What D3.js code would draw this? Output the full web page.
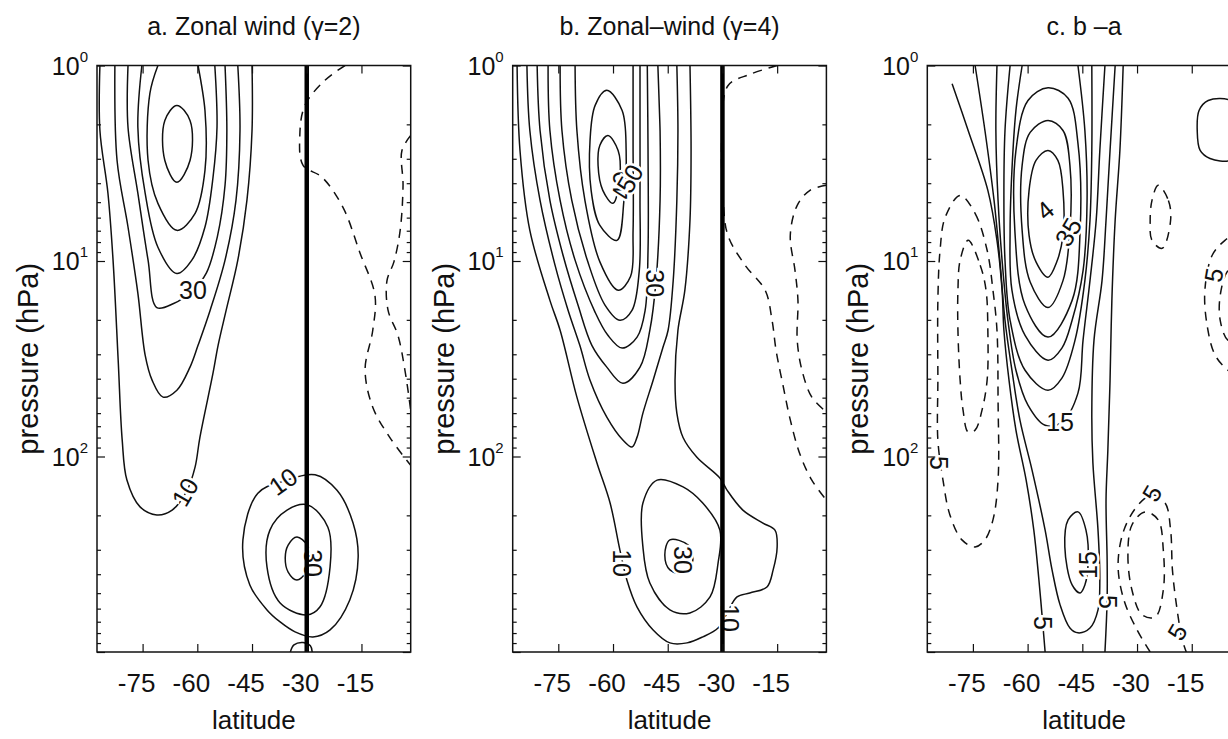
<!DOCTYPE html>
<html><head><meta charset="utf-8">
<script src="https://cdn.jsdelivr.net/npm/d3@7"></script>
<style>
html,body{margin:0;padding:0;background:#fff;}
svg{display:block;font-family:"Liberation Sans",Arial,Helvetica,sans-serif;}
</style></head><body>
<svg id="chart" width="1228" height="739"></svg>
<script>
// ---------------- data (latitude in degrees, pressure in hPa) ----------------
const latTicks = [-75, -60, -45, -30, -15];
const latTickLabels = ["-75", "-60", "-45", "-30", "-15"];
const pressureDecades = [1, 10, 100];
const decadeExponents = ["0", "1", "2"];
const latDomain = [-87.5, -1.5];
const pressureDomain = [1, 1000];
const titles = ["a. Zonal wind (\u03b3=2)", "b. Zonal\u2013wind (\u03b3=4)", "c. b \u2013a"];
const xLabel = "latitude";
const yLabel = "pressure (hPa)";
const jetLat = -30;

// panel a: gamma = 2
const aU10 = [[-86.7,1],[-86.7,2.15],[-84.5,4.5],[-83.1,9.9],[-81.7,32],[-80.6,82],[-79.3,132],[-75.7,181],[-71.1,199],[-66.9,188],[-62.8,149],[-60.6,113],[-59.3,80],[-55.7,37.5],[-54.3,27],[-52.1,17.9],[-48.9,9.9],[-46.4,4.9],[-45,2.15],[-45,1]];
const aU20 = [[-82.6,1],[-82,3.06],[-79,6.7],[-76.3,14.6],[-74.3,30.3],[-72.4,40.7],[-69.4,49.7],[-65.6,45.8],[-62,34.9],[-59.8,27],[-56.5,17.9],[-52.4,9.9],[-49.4,4.9],[-48.3,2.15],[-48.9,1]];
const aU30 = [[-79,1],[-79,2.07],[-76.3,4.5],[-73.5,9.9],[-71.1,17.3],[-66.5,16.5],[-61.2,14.1],[-57.5,11.5],[-54.5,7.5],[-52.4,4.1],[-51.9,2.15],[-52.4,1]];
const aU40 = [[-75.2,1],[-76.3,2.07],[-74.3,4.5],[-70.8,8.5],[-65.6,11.6],[-61.5,9.9],[-57.9,6.7],[-55.7,3.74],[-54.6,2.07],[-55.2,1]];
const aU50 = [[-70.8,1],[-73,1.39],[-73.5,3.06],[-70.8,5.07],[-65.6,6.97],[-60.6,5.7],[-57.9,3.44],[-57.9,1.7],[-59.8,1]];
const aE60 = [[-65.6,1.6],[-62,1.91],[-62,3.06],[-65.6,3.96],[-68.9,3.06],[-68.9,1.91]];
const aB10 = [[-27.7,124],[-21.7,149],[-17.3,219],[-15.9,327],[-18.2,542],[-23.6,771],[-28.3,837],[-33.2,789],[-37.3,702],[-40.9,609],[-45.6,454],[-47.5,267],[-43.4,154],[-36.5,134]];
const aB20 = [[-29.7,177],[-24.2,230],[-23.6,367],[-26.4,589],[-30,646],[-37.3,561],[-40.9,367],[-40.1,238],[-35.4,188]];
const aB30 = [[-32.7,258],[-29.9,284],[-29.1,331],[-30.2,390],[-32.7,428],[-35.1,390],[-35.9,331],[-35.1,284]];
const aS10 = [[-34.5,1000],[-33.5,920],[-31,895],[-29,930],[-28.5,1000]];
const aN10a = [[-19.5,1],[-25,1.19],[-30.5,1.6],[-31.9,2.28],[-31,3.24],[-25.8,3.73],[-20.1,5.3],[-15.4,9.1],[-11.3,15],[-11.9,22.6],[-14,36],[-11.9,56],[-7.2,80],[-1.5,111]];
const aN20a = [[-1.5,2.28],[-3.9,2.72],[-3.6,4.1],[-4.4,7],[-6.1,10.1],[-8,12.6],[-7.7,17.9],[-5,24],[-3.1,36],[-1.5,58]];
const aLabels = [["30",-61.2,14.1,0],["10",-63.4,152,-60],["10",-36.5,134,-35],["30",-28.3,351,90]];

// panel b: gamma = 4
const bU10 = [[-86.3,1],[-85.5,2.72],[-82.8,6.97],[-77.3,15.9],[-74.5,22.6],[-69.9,49.7],[-64.4,108],[-60.8,173],[-58.1,301],[-56.2,428],[-53.4,589],[-49.0,771],[-44.4,898],[-39.7,898],[-35.4,837],[-31.2,754],[-28.7,631],[-26.0,523],[-22.5,499],[-17.8,465],[-16.1,380],[-15.0,290],[-15.6,238],[-18.9,219],[-24.4,188],[-28.7,149],[-30.7,129],[-37.0,101],[-40.8,80],[-42.5,60],[-43.0,41],[-42.2,22.6],[-40.3,14.1],[-38.9,6.2],[-38.6,2.72],[-38.9,1]];
const bU20 = [[-83.6,1],[-82.8,2.15],[-80.0,4.9],[-75.9,10.5],[-72.3,17.9],[-69.1,27],[-66.3,40.7],[-61.7,62.9],[-57.3,82.4],[-54.8,89.5],[-53.4,79.6],[-51.8,60],[-49.0,40.7],[-46.3,27.6],[-44.9,22.6],[-43.5,12.6],[-42.5,4.9],[-42.2,2.15],[-42.5,1]];
const bU30 = [[-80.8,1],[-80.0,2.15],[-77.3,4.9],[-73.7,9.35],[-69.6,16.8],[-65.8,27],[-61.7,34.9],[-57.3,42.2],[-52.6,34.9],[-49.9,22.6],[-48.2,12.6],[-47.1,4.9],[-47.1,2.15],[-47.7,1]];
const bU40 = [[-77.8,1],[-77.3,2.15],[-74.5,4.9],[-70.4,9.9],[-64.9,18.3],[-61.4,24.0],[-57.5,27.9],[-53.4,24.5],[-51.2,17.9],[-50.4,8.8],[-50.4,2.72],[-50.6,1]];
const bU50 = [[-74.5,1],[-74.0,2.15],[-71.3,4.9],[-66.9,10.1],[-62.2,16.8],[-58.1,20.1],[-54.8,17.9],[-52.8,11.2],[-52.6,4.9],[-52.6,2.15],[-52.6,1]];
const bU60 = [[-70.4,1],[-69.9,2.15],[-67.7,4.9],[-63.6,10.1],[-58.6,14.1],[-55.2,12],[-54.5,7],[-54.5,2.5],[-54.5,1]];
const bE70 = [[-61.7,1.34],[-57.5,1.7],[-56.4,2.72],[-57.0,4.9],[-58.9,7.84],[-63.6,6.57],[-66.0,4.35],[-66.3,2.42],[-64.9,1.6]];
const bE80 = [[-61.4,2.28],[-58.6,2.72],[-58.1,3.65],[-60.0,5.07],[-62.8,4.35],[-64.1,3.24],[-63.6,2.56]];
const bB20 = [[-47.9,132],[-40.8,143],[-35.4,173],[-30.7,238],[-31.2,351],[-33.4,523],[-38.9,631],[-44.4,609],[-49.9,444],[-51.8,290],[-51.8,173]];
const bB30 = [[-44.4,267],[-39.4,284],[-38.1,338],[-40.3,395],[-44.4,380],[-45.8,319]];
const bN10a = [[-15,1],[-22.5,1.11],[-28.5,1.27],[-30.1,2.15],[-29.8,4.9],[-28.5,7.39],[-23.8,10.5],[-18.3,14.1],[-16.4,20.1],[-15.3,28.6],[-13.4,43.2],[-11.4,65],[-8.7,98],[-5.5,132],[-1.5,167]];
const bN20a = [[-1.5,4.1],[-6.0,4.35],[-9.5,5.19],[-11.4,7.39],[-10.1,11.2],[-9.3,15.9],[-9.5,25.4],[-8.2,36.2],[-5.5,49.7],[-1.5,59.3]];
const bLabels = [["10",-57.5,351,90],["30",-40.8,338,90],["10",-27.8,670,90],["30",-48.5,13.0,90],["40",-57.5,4.1,-90],["50",-55.4,3.78,-60]];

// panel c: b - a
const cO40 = [[-54.4,2.72],[-51.7,3.06],[-50.3,4.35],[-50.3,7.39],[-52.0,10.1],[-54.4,12.1],[-57.7,10.1],[-59.6,7.39],[-59.6,4.35],[-57.7,3.06]];
const cO35 = [[-54.4,1.91],[-50.3,2.15],[-48.4,3.24],[-48.4,6.97],[-50.3,12.6],[-54.4,17.3],[-59.3,12.8],[-61.5,6.97],[-61.5,3.24],[-59.3,2.2]];
const cO30 = [[-54.4,1.30],[-48.9,1.47],[-46.2,2.5],[-45.6,6.97],[-47.8,15.9],[-54.4,24.5],[-60.7,16.8],[-63.5,6.97],[-63.2,2.72],[-59.9,1.51]];
const cU25 = [[-61.5,1],[-63.2,1.70],[-64.3,3.44],[-64.8,6.97],[-64.3,14.1],[-60.7,24.0],[-54.4,32.2],[-50.6,27.9],[-47.8,20.1],[-44.8,11.2],[-43.7,4.9],[-44.3,2.15],[-46.2,1]];
const cU20 = [[-64.8,1],[-66.2,2.15],[-66.5,4.9],[-66.2,9.92],[-64.8,20.1],[-60.7,36.2],[-54.4,45.8],[-50.6,39.7],[-47.0,25.4],[-44.3,12.6],[-42.9,6.19],[-42.4,2.72],[-42.4,1]];
const cU15 = [[-68.4,1],[-68.7,2.15],[-68.1,4.9],[-67.0,9.92],[-65.4,20.1],[-63.2,36.2],[-59.9,54.6],[-55.2,69.2],[-50.6,66.7],[-46.2,47.4],[-44.8,25.4],[-42.9,12.6],[-41.2,6.19],[-40.2,2.72],[-38.8,1]];
const cU10 = [[-74.4,1],[-71.7,2.15],[-69.2,4.9],[-67.6,9.92],[-66.2,20.1],[-64.3,36.2],[-62.1,65.2],[-58.8,117],[-55.2,238],[-53.3,380],[-51.1,574],[-48.4,754],[-46.2,798],[-42.9,754],[-40.7,609],[-40.2,428],[-40.7,238],[-42.1,108],[-42.4,60],[-41.8,25.4],[-39.6,12.6],[-38.5,6.19],[-37.4,2.72],[-36.0,1]];
const cU5L = [[-80.7,1.24],[-76.3,2.15],[-70.9,4.35],[-68.4,7.84],[-67.0,14.1],[-66.5,22.6],[-65.1,40.7],[-63.2,73.3],[-60.4,132],[-58.3,238],[-56.9,428],[-56.1,631],[-55.2,1000]];
const cU5R = [[-33.8,1],[-34.7,2.72],[-36.0,6.19],[-36.9,15.9],[-37.4,40.7],[-38.0,92.7],[-38.5,167],[-38.2,338],[-38.2,542],[-38.8,1000]];
const cB15 = [[-46.2,192],[-44.0,238],[-43.4,351],[-44.3,454],[-45.6,499],[-47.8,454],[-49.8,290],[-48.9,211]];
const cR5 = [[-10.5,1.51],[-4.5,1.51],[-2.2,1.80],[-2.2,2.72],[-4.5,3.06],[-10.0,2.99],[-12.7,2.72],[-13.5,2.15],[-13.0,1.70]];
const cN5a = [[-78.5,4.62],[-74.4,5.70],[-71.1,8.81],[-69.5,14.1],[-68.4,22.6],[-68.1,51.5],[-68.1,132],[-69.5,211],[-71.7,267],[-74.4,290],[-78.0,267],[-81.3,199],[-83.2,132],[-84.6,82.4],[-84.6,40.7],[-84.6,15.9],[-84.0,8.81],[-82.6,5.98]];
const cN10a = [[-76.3,7.84],[-73.0,10.5],[-71.4,14.1],[-70.9,22.6],[-71.1,40.7],[-72.5,57.9],[-74.4,73.3],[-76.3,75.0],[-77.7,57.9],[-78.5,40.7],[-79.1,22.6],[-79.1,14.1],[-78.5,9.92]];
const cN5b = [[-24.2,4.10],[-21.4,4.90],[-20.8,6.19],[-23.1,8.61],[-25.9,7.84],[-26.4,6.19],[-25.9,4.9]];
const cN5c = [[-1.5,6.97],[-5.9,7.84],[-9.4,9.35],[-11.4,14.1],[-10.8,21.3],[-8.6,30.3],[-5.1,36.2],[-1.5,40]];
const cN10c = [[-1.5,10.1],[-5.1,11.2],[-7.2,15.0],[-7.2,20.1],[-5.1,25.4],[-1.5,26.5]];
const cN5d = [[-26.4,1000],[-30.0,771],[-33.6,542],[-35.2,359],[-33.6,238],[-29.7,177],[-25.9,157],[-22.3,173],[-20.8,238],[-20.3,380],[-19.2,574],[-17.6,867],[-16.5,1000]];
const cN10d = [[-31.4,224],[-32.5,319],[-31.4,482],[-28.6,646],[-25.0,662],[-22.8,482],[-22.8,301],[-24.2,211],[-27.8,192]];
const cLabels = [["15",-51.1,66.7,0],["15",-43.4,359,-90],["5",-55.8,710,90],["5",-38.0,554,90],["5",-84.2,108,90],["5",-25.9,154,-60],["5",-19.0,789,-60],["4",-55.2,5.5,-40],["35",-48.9,7.1,-60],["5",-9.0,11.8,-80]];

// contour tables built from the arrays above
const panels = [
  { title: titles[0], jet: true, labels: aLabels, contours: [
    {level:10, pts:aU10}, {level:20, pts:aU20}, {level:30, pts:aU30}, {level:40, pts:aU40},
    {level:50, pts:aU50}, {level:60, pts:aE60, closed:true},
    {level:10, pts:aB10, closed:true}, {level:20, pts:aB20, closed:true}, {level:30, pts:aB30, closed:true},
    {level:10, pts:aS10}, {level:-10, pts:aN10a}, {level:-20, pts:aN20a} ]},
  { title: titles[1], jet: true, labels: bLabels, contours: [
    {level:10, pts:bU10}, {level:20, pts:bU20}, {level:30, pts:bU30}, {level:40, pts:bU40},
    {level:50, pts:bU50}, {level:60, pts:bU60}, {level:70, pts:bE70, closed:true}, {level:80, pts:bE80, closed:true},
    {level:20, pts:bB20, closed:true}, {level:30, pts:bB30, closed:true},
    {level:-10, pts:bN10a}, {level:-20, pts:bN20a} ]},
  { title: titles[2], jet: false, labels: cLabels, contours: [
    {level:40, pts:cO40, closed:true}, {level:35, pts:cO35, closed:true}, {level:30, pts:cO30, closed:true},
    {level:25, pts:cU25}, {level:20, pts:cU20}, {level:15, pts:cU15}, {level:10, pts:cU10},
    {level:5, pts:cU5L}, {level:5, pts:cU5R}, {level:15, pts:cB15, closed:true}, {level:5, pts:cR5, closed:true},
    {level:-5, pts:cN5a, closed:true}, {level:-10, pts:cN10a, closed:true}, {level:-5, pts:cN5b, closed:true},
    {level:-5, pts:cN5c}, {level:-10, pts:cN10c}, {level:-5, pts:cN5d}, {level:-10, pts:cN10d, closed:true} ]}
];

// ---------------- drawing ----------------
(function draw() {
const svg = d3.select("#chart");
svg.append("rect").attr("width",1228).attr("height",739).attr("fill","#fff");
const panelLeft = [97, 512.7, 927.3];
const pw = 313.7, plotTop = 65.5, plotBottom = 652;
const minorValues = [];
[1,10,100].forEach(d => { for (let k=2;k<=9;k++) minorValues.push(d*k); });

panels.forEach((panel, i) => {
  const left = panelLeft[i];
  const x = d3.scaleLinear().domain(latDomain).range([left, left + pw]);
  const y = d3.scaleLog().domain(pressureDomain).range([plotTop, plotBottom]);
  const g = svg.append("g");

  const clipId = "clip" + i;
  svg.append("clipPath").attr("id", clipId).append("rect")
    .attr("x", left).attr("y", plotTop).attr("width", pw).attr("height", plotBottom - plotTop);
  const plot = g.append("g").attr("clip-path", `url(#${clipId})`);

  const lineOpen = d3.line().x(d => x(d[0])).y(d => y(d[1])).curve(d3.curveCatmullRom.alpha(0.5));
  const lineClosed = d3.line().x(d => x(d[0])).y(d => y(d[1])).curve(d3.curveCatmullRomClosed.alpha(0.5));

  plot.selectAll("path.ct").data(panel.contours).join("path")
    .attr("class","ct")
    .attr("d", c => (c.closed ? lineClosed : lineOpen)(c.pts))
    .attr("fill","none").attr("stroke","#111").attr("stroke-width",1.5)
    .attr("stroke-linejoin","round")
    .attr("stroke-dasharray", c => c.level < 0 ? "9,7" : null);

  plot.selectAll("text.cl").data(panel.labels).join("text")
    .attr("class","cl")
    .attr("transform", d => `translate(${x(d[1])},${y(d[2])}) rotate(${d[3]})`)
    .attr("text-anchor","middle").attr("dy","0.36em")
    .attr("font-size",25).attr("fill","#111")
    .attr("stroke","#fff").attr("stroke-width",5).attr("paint-order","stroke")
    .text(d => d[0]);

  if (panel.jet) {
    plot.append("line").attr("x1", x(jetLat)).attr("x2", x(jetLat))
      .attr("y1", plotTop).attr("y2", plotBottom).attr("stroke","#000").attr("stroke-width",4.5);
  }

  const axB = d3.axisBottom(x).tickValues(latTicks).tickSize(-8).tickFormat("");
  const axT = d3.axisTop(x).tickValues(latTicks).tickSize(-8).tickFormat("");
  const axL = d3.axisLeft(y).tickValues([1,10,100,1000]).tickSize(-8).tickFormat("");
  const axR = d3.axisRight(y).tickValues([1,10,100,1000]).tickSize(-8).tickFormat("");
  const axLm = d3.axisLeft(y).tickValues(minorValues).tickSize(-4).tickFormat("");
  const axRm = d3.axisRight(y).tickValues(minorValues).tickSize(-4).tickFormat("");
  const axes = g.append("g");
  axes.append("g").attr("transform",`translate(0,${plotBottom})`).call(axB);
  axes.append("g").attr("transform",`translate(0,${plotTop})`).call(axT);
  axes.append("g").attr("transform",`translate(${left},0)`).call(axL);
  axes.append("g").attr("transform",`translate(${left+pw},0)`).call(axR);
  axes.append("g").attr("transform",`translate(${left},0)`).call(axLm);
  axes.append("g").attr("transform",`translate(${left+pw},0)`).call(axRm);
  axes.selectAll(".domain").remove();
  axes.selectAll(".tick line").attr("stroke","#111").attr("stroke-width",1.2);

  g.append("rect").attr("x", left).attr("y", plotTop).attr("width", pw).attr("height", plotBottom - plotTop)
    .attr("fill","none").attr("stroke","#111").attr("stroke-width",1.5);

  g.selectAll("text.xt").data(latTicks).join("text").attr("class","xt")
    .attr("x", d => x(d) - 6).attr("y", 692)
    .attr("text-anchor","middle").attr("font-size",26).attr("fill","#111")
    .text((d, k) => latTickLabels[k]);

  pressureDecades.forEach((p, k) => {
    const t = g.append("text").attr("x", left - 9).attr("y", y(p) + 9)
      .attr("text-anchor","end").attr("font-size",25).attr("fill","#111");
    t.append("tspan").text("10");
    t.append("tspan").attr("font-size",15).attr("dy",-13).text(decadeExponents[k]);
  });

  g.append("text").attr("x", left + pw/2).attr("y", 35).attr("text-anchor","middle")
    .attr("font-size",25).attr("fill","#111").text(panel.title);
  g.append("text").attr("x", left + pw/2).attr("y", 729).attr("text-anchor","middle")
    .attr("font-size",26).attr("fill","#111").text(xLabel);
  g.append("text").attr("transform",`translate(${left - 59},${(plotTop+plotBottom)/2}) rotate(-90)`)
    .attr("text-anchor","middle").attr("font-size",29).attr("fill","#111").text(yLabel);
});
})();
</script>
</body></html>
